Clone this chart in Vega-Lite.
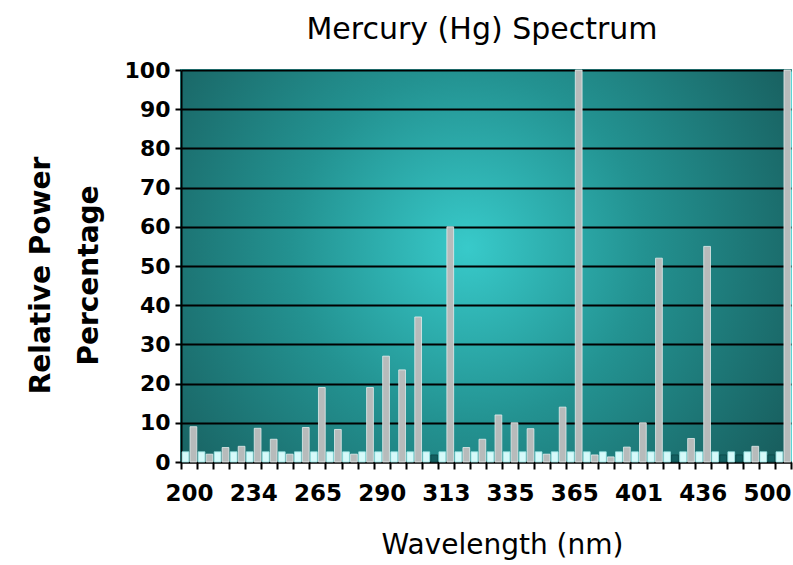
{
  "$schema": "https://vega.github.io/schema/vega-lite/v6.json",
  "width": 610,
  "height": 392,
  "autosize": {"type": "none"},
  "padding": {"left": 181, "top": 70, "right": 2, "bottom": 103},
  "background": "white",
  "title": {"text": "Mercury (Hg) Spectrum", "font": "DejaVu Sans", "fontSize": 30, "fontWeight": "normal", "color": "#000000", "offset": 14, "dx": -4},
  "view": {
    "fill": {"gradient": "radial", "x1": 0.47, "y1": 0.47, "r1": 0, "x2": 0.47, "y2": 0.47, "r2": 0.64,
      "stops": [{"offset": 0, "color": "#38caca"}, {"offset": 0.45, "color": "#239291"}, {"offset": 1, "color": "#175a5a"}]},
    "stroke": "#3ccfcf",
    "strokeWidth": 2
  },
  "data": {"values": [
    {"band": 0, "slot": "floor", "kind": "floor", "value": 2.6}, {"band": 0, "slot": "line", "kind": "line", "value": 9},
    {"band": 1, "slot": "floor", "kind": "floor", "value": 2.6}, {"band": 1, "slot": "line", "kind": "line", "value": 2},
    {"band": 2, "slot": "floor", "kind": "floor", "value": 2.6}, {"band": 2, "slot": "line", "kind": "line", "value": 3.7},
    {"band": 3, "slot": "floor", "kind": "floor", "value": 2.6}, {"band": 3, "slot": "line", "kind": "line", "value": 4},
    {"band": 4, "slot": "floor", "kind": "floor", "value": 2.6}, {"band": 4, "slot": "line", "kind": "line", "value": 8.6},
    {"band": 5, "slot": "floor", "kind": "floor", "value": 2.6}, {"band": 5, "slot": "line", "kind": "line", "value": 5.8},
    {"band": 6, "slot": "floor", "kind": "floor", "value": 2.6}, {"band": 6, "slot": "line", "kind": "line", "value": 2},
    {"band": 7, "slot": "floor", "kind": "floor", "value": 2.6}, {"band": 7, "slot": "line", "kind": "line", "value": 8.8},
    {"band": 8, "slot": "floor", "kind": "floor", "value": 2.6}, {"band": 8, "slot": "line", "kind": "line", "value": 19},
    {"band": 9, "slot": "floor", "kind": "floor", "value": 2.6}, {"band": 9, "slot": "line", "kind": "line", "value": 8.3},
    {"band": 10, "slot": "floor", "kind": "floor", "value": 2.6}, {"band": 10, "slot": "line", "kind": "line", "value": 2},
    {"band": 11, "slot": "floor", "kind": "floor", "value": 2.6}, {"band": 11, "slot": "line", "kind": "line", "value": 19},
    {"band": 12, "slot": "floor", "kind": "floor", "value": 2.6}, {"band": 12, "slot": "line", "kind": "line", "value": 27},
    {"band": 13, "slot": "floor", "kind": "floor", "value": 2.6}, {"band": 13, "slot": "line", "kind": "line", "value": 23.5},
    {"band": 14, "slot": "floor", "kind": "floor", "value": 2.6}, {"band": 14, "slot": "line", "kind": "line", "value": 37},
    {"band": 15, "slot": "floor", "kind": "floor", "value": 2.6}, {"band": 15, "slot": "line", "kind": "empty", "value": 1.8},
    {"band": 16, "slot": "floor", "kind": "floor", "value": 2.6}, {"band": 16, "slot": "line", "kind": "line", "value": 60},
    {"band": 17, "slot": "floor", "kind": "floor", "value": 2.6}, {"band": 17, "slot": "line", "kind": "line", "value": 3.7},
    {"band": 18, "slot": "floor", "kind": "floor", "value": 2.6}, {"band": 18, "slot": "line", "kind": "line", "value": 5.8},
    {"band": 19, "slot": "floor", "kind": "floor", "value": 2.6}, {"band": 19, "slot": "line", "kind": "line", "value": 12},
    {"band": 20, "slot": "floor", "kind": "floor", "value": 2.6}, {"band": 20, "slot": "line", "kind": "line", "value": 10},
    {"band": 21, "slot": "floor", "kind": "floor", "value": 2.6}, {"band": 21, "slot": "line", "kind": "line", "value": 8.5},
    {"band": 22, "slot": "floor", "kind": "floor", "value": 2.6}, {"band": 22, "slot": "line", "kind": "line", "value": 2},
    {"band": 23, "slot": "floor", "kind": "floor", "value": 2.6}, {"band": 23, "slot": "line", "kind": "line", "value": 14},
    {"band": 24, "slot": "floor", "kind": "floor", "value": 2.6}, {"band": 24, "slot": "line", "kind": "line", "value": 100},
    {"band": 25, "slot": "floor", "kind": "floor", "value": 2.6}, {"band": 25, "slot": "line", "kind": "line", "value": 1.8},
    {"band": 26, "slot": "floor", "kind": "floor", "value": 2.6}, {"band": 26, "slot": "line", "kind": "line", "value": 1.3},
    {"band": 27, "slot": "floor", "kind": "floor", "value": 2.6}, {"band": 27, "slot": "line", "kind": "line", "value": 3.8},
    {"band": 28, "slot": "floor", "kind": "floor", "value": 2.6}, {"band": 28, "slot": "line", "kind": "line", "value": 10},
    {"band": 29, "slot": "floor", "kind": "floor", "value": 2.6}, {"band": 29, "slot": "line", "kind": "line", "value": 52},
    {"band": 30, "slot": "floor", "kind": "floor", "value": 2.6}, {"band": 30, "slot": "line", "kind": "empty", "value": 1.8},
    {"band": 31, "slot": "floor", "kind": "floor", "value": 2.6}, {"band": 31, "slot": "line", "kind": "line", "value": 6},
    {"band": 32, "slot": "floor", "kind": "floor", "value": 2.6}, {"band": 32, "slot": "line", "kind": "line", "value": 55},
    {"band": 33, "slot": "floor", "kind": "floor", "value": 2.6}, {"band": 33, "slot": "line", "kind": "empty", "value": 1.8},
    {"band": 34, "slot": "floor", "kind": "floor", "value": 2.6}, {"band": 34, "slot": "line", "kind": "empty", "value": 1.8},
    {"band": 35, "slot": "floor", "kind": "floor", "value": 2.6}, {"band": 35, "slot": "line", "kind": "line", "value": 4},
    {"band": 36, "slot": "floor", "kind": "floor", "value": 2.6}, {"band": 36, "slot": "line", "kind": "empty", "value": 1.8},
    {"band": 37, "slot": "floor", "kind": "floor", "value": 2.6}, {"band": 37, "slot": "line", "kind": "line", "value": 100}
  ]},
  "mark": {"type": "bar", "strokeWidth": 0.8},
  "encoding": {
    "x": {
      "field": "band", "type": "ordinal",
      "scale": {"paddingInner": 0, "paddingOuter": 0},
      "axis": {
        "title": "Wavelength (nm)",
        "labelExpr": "datum.value % 4 == 0 ? ['200','234','265','290','313','335','365','401','436','500'][datum.value / 4] : ''",
        "labelAngle": 0, "labelOverlap": false, "tickBand": "extent",
        "tickSize": 7, "tickWidth": 2, "tickColor": "#000000",
        "domainColor": "#000000", "domainWidth": 2,
        "labelFont": "DejaVu Sans", "labelFontWeight": "bold", "labelFontSize": 23, "labelColor": "#000000", "labelPadding": 13,
        "titleFont": "DejaVu Sans", "titleFontWeight": "normal", "titleFontSize": 28, "titleColor": "#000000",
        "titleX": 321, "titleY": 91, "titleBaseline": "alphabetic", "titleAlign": "center",
        "grid": false
      }
    },
    "xOffset": {
      "field": "slot", "type": "nominal",
      "scale": {"domain": ["floor", "line"], "range": [1.1, 15.8], "paddingInner": 0.15, "paddingOuter": 0}
    },
    "y": {
      "field": "value", "type": "quantitative",
      "scale": {"domain": [0, 100], "nice": false},
      "axis": {
        "title": ["Relative Power", "Percentage"], "tickCount": 10,
        "grid": true, "gridColor": "#000000", "gridWidth": 2, "gridOpacity": 1,
        "tickSize": 6, "tickWidth": 2, "tickColor": "#000000",
        "domainColor": "#000000", "domainWidth": 2,
        "labelFont": "DejaVu Sans", "labelFontWeight": "bold", "labelFontSize": 22, "labelColor": "#000000", "labelPadding": 5,
        "titleFont": "DejaVu Sans", "titleFontWeight": "bold", "titleFontSize": 28, "titleColor": "#000000",
        "titleAngle": -90, "titleX": -126, "titleY": 205, "titleBaseline": "bottom", "titleAlign": "center", "titleLineHeight": 48
      }
    },
    "color": {
      "field": "kind", "type": "nominal",
      "scale": {"domain": ["floor", "line", "empty"], "range": ["#d6fafa", "#b7bbbb", "#135f60"]},
      "legend": null
    },
    "stroke": {
      "field": "kind", "type": "nominal",
      "scale": {"domain": ["floor", "line", "empty"], "range": ["#9ae4e4", "#e4eeee", "#0d4848"]},
      "legend": null
    }
  }
}
